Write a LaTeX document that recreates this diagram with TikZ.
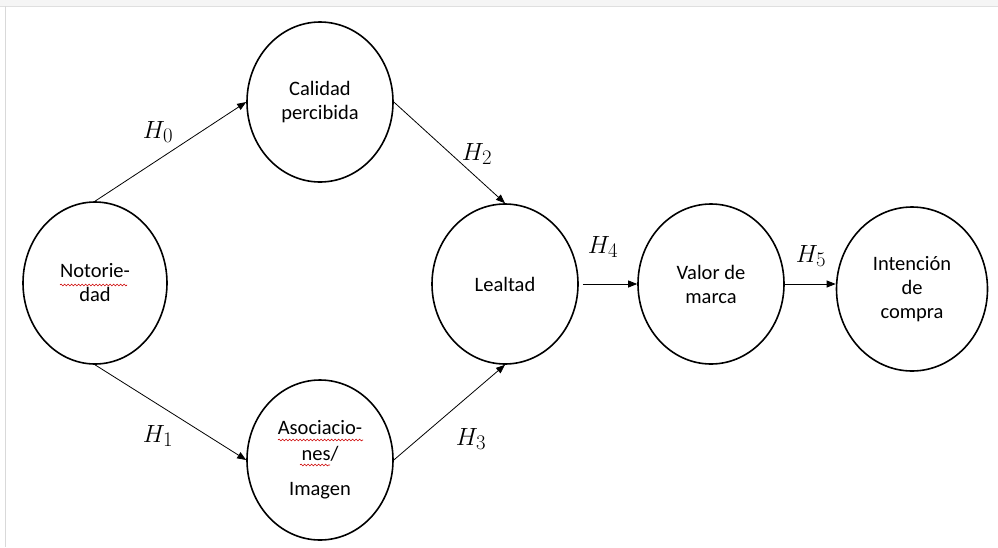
\documentclass[tikz,border=0pt]{standalone}
\usepackage{fontspec}
\setmainfont{Carlito}
\usetikzlibrary{shapes.geometric,arrows.meta,calc,decorations.pathmorphing}

\tikzset{
  construct/.style={ellipse, draw=black, line width=1.6pt, inner sep=0pt,
    minimum width=146pt, minimum height=160pt, align=center,
    font=\fontsize{20.5}{24}\selectfont},
  path/.style={draw=black, line width=0.8pt,
    -{Triangle[length=9pt,width=7pt]}},
  hyp/.style={font=\fontsize{28}{30}\selectfont, inner sep=0pt},
  spell/.style={draw=red!80!black, line width=0.6pt,
    decorate, decoration={snake, segment length=3.5pt, amplitude=0.9pt}}
}

\begin{document}
\begin{tikzpicture}[x=1pt, y=-1pt]
  \useasboundingbox (0,0) rectangle (998,547);
  % window edge
  \fill[gray!8] (0,0) rectangle (998,6);
  \draw[gray!25, line width=0.8pt] (0,6) -- (998,6);
  \draw[gray!30, line width=1pt] (5,6) -- (5,547);

  % constructs
  \node[construct, minimum width=144pt, minimum height=162pt] (noto) at (95,283) {Notorie-\\dad};
  \node[construct] (cal) at (320,102) {Calidad\\percibida};
  \node[construct] (aso) at (320,460) {Asociacio-\\[2pt]nes/\\[11pt]Imagen};
  \node[construct] (leal) at (505,284) {Lealtad};
  \node[construct] (valor) at (711,284) {Valor de\\marca};
  \node[construct, minimum width=151pt, minimum height=164pt] (int) at (912,289) {Intención\\de\\compra};

  % spell-check marks
  \draw[spell] ($(noto.center)+(-35,2)$) -- ++(67,0);
  \draw[spell] ($(aso.center)+(-42,-20)$) -- ++(85,0);
  \draw[spell] ($(aso.center)+(-20,5)$) -- ++(30,0);

  % hypotheses
  \draw[path] (noto.north) -- (cal.west);
  \draw[path] (noto.south) -- (aso.west);
  \draw[path] (cal.east) -- (leal.north);
  \draw[path] (aso.east) -- (leal.south);
  \draw[path, shorten <=4pt] (leal.east) -- (valor.west);
  \draw[path] (valor.east) -- (valor.east -| int.west);

  \node[hyp] (h0) at (158,132) {$H_0$};
  \node[hyp] (h1) at (158,436) {$H_1$};
  \node[hyp] (h2) at (477,154) {$H_2$};
  \node[hyp] (h3) at (471,439) {$H_3$};
  \node[hyp] (h4) at (603,247) {$H_4$};
  \node[hyp] (h5) at (811,256) {$H_5$};
\end{tikzpicture}
\end{document}
